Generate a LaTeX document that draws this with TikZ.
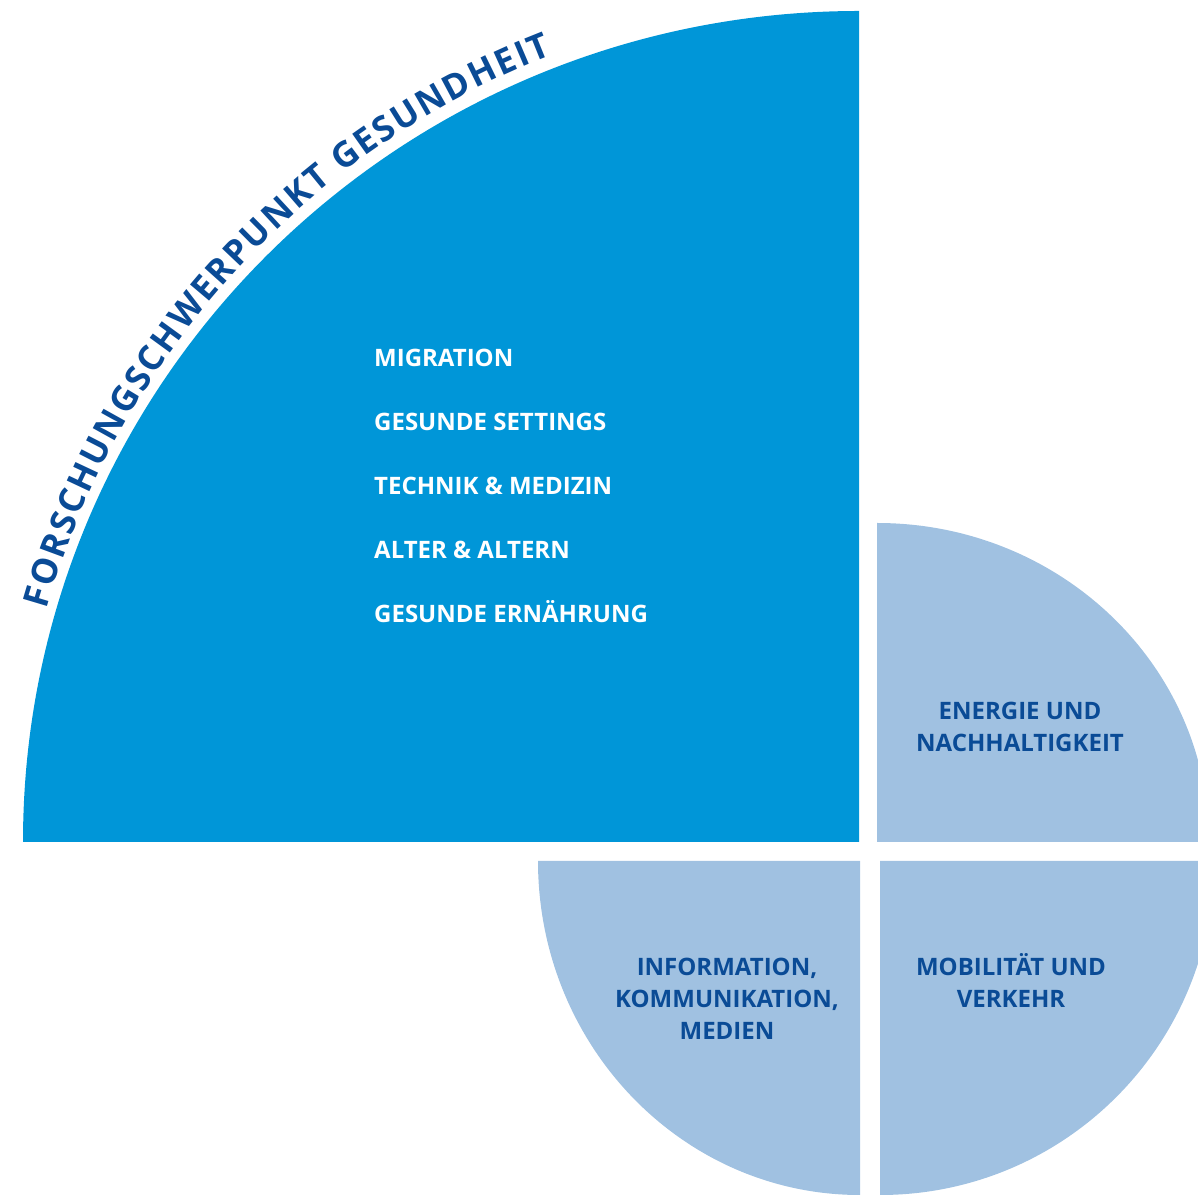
\documentclass[tikz,border=0pt]{standalone}
\usepackage{fontspec}
\setmainfont{Open Sans}
\usetikzlibrary{decorations.text,calc}
\definecolor{bigblue}{RGB}{0,150,216}
\definecolor{lightblue}{RGB}{160,193,225}
\definecolor{darkblue}{RGB}{10,75,150}
\begin{document}
\begin{tikzpicture}[x=1pt,y=1pt,
  topic/.style={anchor=base west, inner sep=0pt, text=white, font=\fontsize{24}{29}\selectfont\bfseries},
  sublabel/.style={anchor=base, inner sep=0pt, text=darkblue, font=\fontsize{24}{28}\selectfont\bfseries}]
\useasboundingbox (0,0) rectangle (1198,1194);
\clip (0,0) rectangle (1198,1194);
\coordinate (C) at (859,352);
% big quarter
\fill[bigblue] (C) -- (23,352) arc[start angle=180,end angle=90,x radius=836,y radius=831] -- cycle;
% small pieces
\fill[lightblue] (877,352) -- (1209,352) arc[start angle=0,end angle=90,x radius=332,y radius=319] -- cycle;
\fill[lightblue] (860,333) -- (538,333) arc[start angle=180,end angle=270,x radius=322,y radius=334] -- cycle;
\fill[lightblue] (880,333) -- (880,-1) arc[start angle=270,end angle=360,radius=334] -- cycle;
% arc title
\path[decorate, decoration={text along path, text color=darkblue,
   text={|\fontsize{35}{40}\selectfont\bfseries|FORSCHUNGSCHWERPUNKT GESUNDHEIT},
   text align=fit to path}]
   ($(C)+(164:845)$) arc[start angle=164,end angle=111.3,radius=845];
% topics
\node[topic] (t1) at (374,827) {MIGRATION};
\node[topic] (t2) at (374,763) {GESUNDE SETTINGS};
\node[topic] (t3) at (374,699) {TECHNIK \& MEDIZIN};
\node[topic] (t4) at (374,635) {ALTER \& ALTERN};
\node[topic] (t5) at (374,571) {GESUNDE ERNÄHRUNG};
% sub labels
\node[sublabel] (e1) at (1020,474) {ENERGIE UND};
\node[sublabel] (e2) at (1020,442) {NACHHALTIGKEIT};
\node[sublabel] (i1) at (727,219) {INFORMATION,};
\node[sublabel] (i2) at (727,187) {KOMMUNIKATION,};
\node[sublabel] (i3) at (727,155) {MEDIEN};
\node[sublabel] (m1) at (1011,219) {MOBILITÄT UND};
\node[sublabel] (m2) at (1011,187) {VERKEHR};
\end{tikzpicture}
\end{document}
